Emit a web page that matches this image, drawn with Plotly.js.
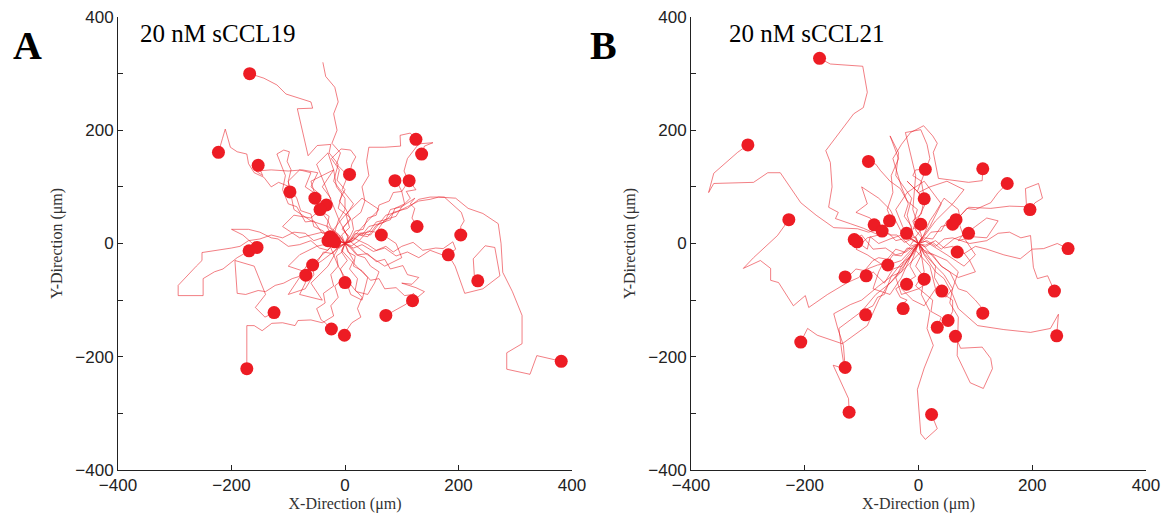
<!DOCTYPE html>
<html><head><meta charset="utf-8">
<script src="https://cdn.plot.ly/plotly-3.0.1.min.js"></script>
<style>html,body{margin:0;padding:0;background:#fff}#chart{width:1172px;height:523px}</style>
</head><body><div id="chart"></div>
<script>
// ---------- Panel A: 20 nM sCCL19 (end points, µm) ----------
const endAx = [-168,-223,-153,-97,-53,-33,-44,8,88,113,125,135,64,127,204,182,234,119,72,0,-24,-1,-125,-173,381,-69,-57,-169,-155,-30,-22,-26,-18];
const endAy = [300,161,138,91,80,68,60,122,111,111,184,158,15,30,15,-20,-66,-101,-127,-69,-151,-162,-122,-221,-208,-56,-38,-13,-7,5,8,12,3];
// intermediate track waypoints (each track starts at origin and finishes at its end point)
const pathsA = [
 [[8,12],[-5,25],[10,45],[-12,62],[-5,90],[-20,110],[-12,140],[-28,160],[-25,175],[-49,173],[-65,155],[-84,238],[-57,239],[-60,250],[-104,264],[-120,280],[-143,292]],
 [[-12,8],[-25,0],[-38,22],[-55,30],[-60,52],[-78,58],[-85,80],[-97,100],[-117,108],[-130,100],[-143,117],[-160,125],[-170,141],[-173,158],[-190,162],[-202,170],[-211,202],[-216,185],[-220,172]],
 [[-10,12],[-20,8],[-32,30],[-28,48],[-50,62],[-42,85],[-60,100],[-48,125],[-75,130],[-100,128],[-130,130],[-157,128],[-145,120]],
 [[-15,5],[-22,20],[-40,18],[-55,40],[-70,38],[-85,65],[-100,70],[-110,95],[-105,120],[-120,158],[-108,165],[-98,162],[-102,145],[-95,130],[-100,110]],
 [[-8,12],[-30,30],[-60,40],[-90,60],[-100,110],[-80,130],[-60,125],[-70,100],[-55,90]],
 [[6,10],[-10,40],[-30,90],[-50,140],[-30,160],[-20,130],[-40,100],[-25,80]],
 [[-10,6],[-40,20],[-80,10],[-110,30],[-90,50],[-60,45],[-50,55]],
 [[5,12],[-4,28],[10,42],[2,60],[-10,75],[0,95],[-14,112],[-10,130],[-24,150],[-7,167],[10,165],[19,153],[12,140]],
 [[10,8],[18,22],[32,25],[40,45],[55,50],[60,68],[78,75],[85,90],[100,92],[95,102]],
 [[12,5],[25,18],[42,20],[55,38],[72,42],[80,60],[100,65],[115,80],[108,92],[125,95],[118,104]],
 [[8,10],[15,25],[12,42],[28,55],[35,75],[30,100],[42,120],[38,145],[42,170],[70,170],[98,172],[97,191],[115,195]],
 [[15,5],[28,18],[45,15],[60,35],[80,42],[88,62],[105,70],[100,92],[112,110],[104,128],[110,150],[130,176],[155,178],[140,172]],
 [[10,3],[40,-20],[70,-40],[100,-25],[90,0],[75,10]],
 [[15,10],[25,5],[40,22],[55,20],[70,42],[90,48],[100,65],[123,80],[115,70],[123,62],[118,45]],
 [[12,4],[25,15],[40,12],[55,32],[70,38],[85,55],[110,62],[130,78],[150,82],[175,82],[190,68],[205,55],[210,40],[204,30]],
 [[12,-4],[25,5],[40,-2],[55,-12],[72,-5],[85,-15],[100,-5],[120,2],[137,-12],[160,-8],[173,-9],[190,3],[195,-10]],
 [[15,-8],[30,-2],[50,-14],[70,-8],[90,-22],[110,-15],[130,-25],[150,-12],[170,-20],[185,-25],[194,-40],[205,-72],[211,-88],[243,-80],[273,-57],[264,-7],[247,-4],[226,-27],[228,-58]],
 [[12,-8],[22,-20],[40,-18],[55,-32],[70,-28],[80,-45],[102,-39],[110,-55],[130,-60],[118,-72],[100,-70],[125,-78],[140,-85],[128,-95],[120,-88]],
 [[5,-15],[18,-22],[15,-40],[30,-48],[45,-65],[60,-62],[70,-80],[90,-78],[105,-92],[120,-90],[108,-107]],
 [[-6,-12],[20,-40],[40,-60],[30,-100],[10,-90],[5,-75]],
 [[-5,-15],[-15,-22],[-12,-40],[-25,-55],[-20,-75],[-38,-88],[-35,-105],[-50,-115],[-42,-135],[-35,-140]],
 [[6,-14],[15,-30],[8,-45],[22,-62],[18,-82],[30,-95],[22,-115],[28,-130],[12,-140],[5,-150]],
 [[-12,-5],[-22,-18],[-38,-15],[-50,-35],[-68,-40],[-80,-58],[-93,-62],[-108,-70],[-123,-74],[-140,-85],[-153,-83],[-175,-90],[-190,-88],[-194,-30],[-175,-35],[-160,-40],[-150,-65],[-140,-90],[-158,-113],[-141,-130]],
 [[-6,-15],[4,-30],[-8,-45],[-2,-62],[-18,-75],[-12,-95],[-25,-110],[-20,-128],[-40,-140],[-60,-135],[-83,-136],[-88,-145],[-110,-140],[-129,-141],[-146,-154],[-160,-145],[-173,-145]],
 [[10,5],[18,18],[30,15],[42,30],[60,35],[72,50],[90,55],[110,65],[130,75],[150,78],[165,82],[195,80],[217,62],[243,53],[270,35],[275,0],[278,-51],[295,-85],[312,-127],[312,-177],[285,-193],[285,-222],[326,-231],[338,-198]],
 [[-10,-5],[-30,-40],[-60,-70],[-40,-100],[-80,-90],[-70,-70]],
 [[-12,5],[-40,-20],[-80,-60],[-100,-90],[-70,-80],[-55,-55]],
 [[-12,5],[-25,-3],[-40,10],[-55,5],[-70,18],[-90,20],[-110,10],[-130,15],[-150,8],[-170,5],[-185,-5],[-200,-8],[-230,-12],[-252,-16],[-252,-30],[-262,-40],[-294,-74],[-294,-92],[-250,-92],[-250,-62],[-230,-50],[-215,-45],[-190,-25]],
 [[-10,-8],[-22,0],[-30,-12],[-45,-8],[-60,5],[-80,-2],[-100,-5],[-118,8],[-130,10],[-150,20],[-170,25],[-200,25],[-180,15]],
 [[10,-8],[20,-20],[35,-25],[45,-40],[60,-50],[52,-70],[40,-90],[20,-85],[0,-60],[-12,-40],[-20,-20]],
 [[-10,15],[-25,28],[-30,40],[-45,60],[-52,82],[-60,110],[-40,120],[-20,130],[-15,100],[0,80],[0,60],[-12,40]],
 [[12,8],[40,40],[60,60],[30,80],[0,50],[-20,25]],
 [[-12,-8],[-40,-30],[-70,-50],[-100,-40],[-80,-20],[-50,-5],[-30,0]]
];
// track whose end point carries no marker
const openPathsA = [
 [[0,0],[-6,15],[8,28],[2,50],[15,70],[-5,95],[5,120],[-15,140],[-8,160],[-23,177],[-14,200],[-20,229],[-12,250],[-18,276],[-34,295],[-39,320]]
];

// ---------- Panel B: 20 nM sCCL21 ----------
const endBx = [-174,-300,-228,-88,12,113,156,196,10,-78,-64,-51,4,-21,60,66,88,-113,-108,68,263,-54,-129,-92,-21,10,41,239,-27,-93,113,33,52,65,243,-207,-129,-122,23];
const endBy = [327,174,42,145,131,132,106,60,79,33,22,40,34,18,34,42,18,7,3,-15,-9,-38,-59,-57,-72,-63,-84,-84,-115,-126,-123,-148,-136,-164,-163,-174,-219,-298,-302];
const pathsB = [
 [[-8,6],[-15,-4],[-28,8],[-40,5],[-52,18],[-70,15],[-97,27],[-120,35],[-146,44],[-141,55],[-158,64],[-152,100],[-155,143],[-163,164],[-140,195],[-114,229],[-97,240],[-90,267],[-98,313],[-130,315],[-155,317]],
 [[-12,8],[-25,2],[-38,15],[-50,15],[-70,25],[-88,20],[-107,26],[-149,28],[-180,50],[-207,72],[-243,125],[-265,125],[-290,108],[-360,106],[-369,90],[-360,124],[-318,161]],
 [[-8,-10],[-20,-8],[-30,-22],[-45,-20],[-55,-35],[-72,-38],[-90,-45],[-105,-60],[-125,-69],[-160,-90],[-193,-113],[-199,-92],[-220,-110],[-246,-69],[-260,-65],[-260,-44],[-278,-30],[-308,-44],[-290,-25],[-248,14]],
 [[-5,12],[5,25],[-8,40],[-2,60],[-20,75],[-32,97],[-50,110],[-67,129],[-75,140]],
 [[6,10],[-4,22],[-10,40],[5,52],[10,80],[-2,92],[5,110],[-10,120],[-5,130]],
 [[-6,12],[-15,8],[-12,30],[-25,48],[-18,70],[-30,100],[-38,125],[-45,150],[-30,175],[-14,196],[9,208],[25,190],[33,177],[26,161],[35,115],[60,112],[88,108],[112,111]],
 [[12,8],[22,20],[40,22],[50,40],[70,45],[85,62],[100,60],[127,72],[140,90]],
 [[10,10],[25,8],[40,30],[60,35],[88,64],[127,62],[160,66],[190,65],[188,97],[211,106],[218,80],[205,72]],
 [[8,10],[30,40],[60,70],[80,95],[50,110],[20,100],[0,90],[-20,110],[-5,95],[15,72]],
 [[-10,5],[-30,20],[-50,60],[-70,80],[-100,100],[-90,70],[-110,55],[-85,45]],
 [[-8,-6],[-30,-30],[-60,-40],[-90,-20],[-110,-10],[-90,10],[-70,15]],
 [[-8,12],[-20,50],[-12,80],[-40,120],[-35,160],[-50,190],[-35,150],[-48,120],[-45,90],[-55,60],[-51,50]],
 [[6,12],[-10,60],[-5,120],[-23,196],[4,201],[15,175],[20,150],[5,110],[12,70],[-10,25]],
 [[-6,-8],[20,30],[40,70],[10,110],[-20,90],[-40,60],[-28,30]],
 [[12,4],[50,-20],[80,-40],[100,-20],[80,10],[70,40],[52,38]],
 [[8,12],[20,40],[30,55],[45,80],[58,70],[70,60],[72,50]],
 [[12,-6],[25,2],[40,-10],[62,8],[80,15],[100,30],[120,45],[140,40],[128,22],[120,10],[95,12],[70,5],[78,15]],
 [[-10,-6],[-22,-15],[-40,-20],[-58,-8],[-80,-10],[-92,5],[-100,15]],
 [[-8,6],[-20,12],[-30,15],[-50,8],[-70,0],[-85,12],[-90,-10]],
 [[10,-5],[40,-40],[70,-60],[100,-50],[90,-30],[75,-10]],
 [[12,-3],[30,5],[45,-8],[60,-5],[80,-18],[100,-5],[120,-10],[150,-20],[179,-27],[200,-10],[220,-9],[244,0]],
 [[-8,-10],[-30,-60],[-50,-90],[-80,-80],[-70,-50],[-60,-30]],
 [[-12,-4],[-25,-15],[-40,-10],[-55,-28],[-70,-25],[-80,-30],[-95,-48],[-110,-45],[-120,-55]],
 [[-10,-15],[-18,-28],[-30,-40],[-45,-45],[-60,-70],[-70,-60],[-80,-50],[-88,-60]],
 [[-5,-12],[20,-40],[30,-80],[10,-110],[-10,-100],[-30,-80]],
 [[8,-10],[-20,-40],[-40,-60],[-30,-90],[0,-80],[15,-70]],
 [[10,-12],[50,-30],[70,-50],[60,-80],[48,-95]],
 [[15,5],[30,-5],[45,8],[60,10],[90,0],[120,5],[140,18],[160,20],[180,10],[197,14],[202,-42],[209,-62],[227,-57]],
 [[-6,-15],[-15,-40],[-5,-58],[-25,-70],[-40,-80],[-32,-95],[-20,-100],[-30,-108]],
 [[-10,-15],[-20,-30],[-30,-50],[-48,-58],[-60,-90],[-72,-95],[-80,-110],[-90,-115]],
 [[10,-15],[25,-20],[40,-40],[55,-50],[70,-80],[85,-85],[100,-100],[110,-112]],
 [[5,-20],[10,-50],[-5,-75],[25,-100],[22,-120],[40,-130]],
 [[12,-15],[30,-40],[28,-60],[45,-90],[60,-100],[60,-120]],
 [[10,-18],[30,-40],[45,-55],[60,-80],[55,-105],[70,-130],[68,-198],[91,-246],[114,-256],[130,-221],[127,-203],[112,-183],[74,-185]],
 [[10,-20],[30,-50],[45,-62],[60,-90],[70,-115],[104,-145],[150,-152],[197,-157],[232,-150],[246,-125]],
 [[-12,-15],[-25,-30],[-40,-60],[-55,-75],[-70,-100],[-90,-145],[-134,-177],[-178,-162],[-195,-150]],
 [[-10,-20],[-30,-35],[-50,-60],[-70,-75],[-100,-100],[-120,-108],[-149,-124],[-142,-150],[-132,-180]],
 [[-15,-25],[-30,-45],[-50,-70],[-75,-90],[-100,-120],[-120,-135],[-140,-150],[-135,-190],[-130,-221],[-150,-215],[-123,-274]],
 [[5,-20],[-5,-40],[10,-60],[5,-90],[20,-120],[15,-150],[26,-180],[10,-220],[-2,-258],[4,-336],[12,-346],[33,-327]]
];
const openPathsB = [];

const yTicks = [-400,-300,-200,-100,0,100,200,300,400];
const yTickText = ['−400','','−200','','0','','200','','400'];
const xTicks = [-400,-200,0,200,400];
const xTickText = ['−400','−200','0','200','400'];

function buildLines(paths, ex, ey, openPaths){
  const xs=[], ys=[];
  paths.forEach((p,i)=>{
    xs.push(0); ys.push(0);
    p.forEach(q=>{xs.push(q[0]); ys.push(q[1]);});
    xs.push(ex[i]); ys.push(ey[i]);
    xs.push(null); ys.push(null);
  });
  openPaths.forEach(p=>{
    p.forEach(q=>{xs.push(q[0]); ys.push(q[1]);});
    xs.push(null); ys.push(null);
  });
  return {xs, ys};
}
const LA = buildLines(pathsA, endAx, endAy, openPathsA);
const LB = buildLines(pathsB, endBx, endBy, openPathsB);

const lineStyle = {color:'rgba(232,32,40,0.72)', width:0.8};
const markerStyle = {color:'#ed1c24', size:13, line:{width:0}};

const data = [
 {x:LA.xs, y:LA.ys, mode:'lines', line:lineStyle, xaxis:'x', yaxis:'y', hoverinfo:'skip', showlegend:false, connectgaps:false},
 {x:endAx, y:endAy, mode:'markers', marker:markerStyle, xaxis:'x', yaxis:'y', showlegend:false, cliponaxis:false},
 {x:LB.xs, y:LB.ys, mode:'lines', line:lineStyle, xaxis:'x2', yaxis:'y2', hoverinfo:'skip', showlegend:false, connectgaps:false},
 {x:endBx, y:endBy, mode:'markers', marker:markerStyle, xaxis:'x2', yaxis:'y2', showlegend:false, cliponaxis:false}
];

const tickFont = {family:'"Liberation Sans", Arial, sans-serif', size:17, color:'#222'};
const titleFont = {family:'"Liberation Serif", "Times New Roman", serif', size:16, color:'#333'};
function xAx(dom){
  return {domain:dom, range:[-400,400], showgrid:false, zeroline:false, showline:true, linecolor:'#222', linewidth:1,
    ticks:'inside', ticklen:5, tickcolor:'#222', tickvals:xTicks, ticktext:xTickText, tickfont:tickFont,
    automargin:false, mirror:false, fixedrange:true,
    title:{text:'X-Direction (μm)', font:titleFont, standoff:3}};
}
function yAx(dom){
  return {domain:dom, range:[-400,400], showgrid:false, zeroline:false, showline:true, linecolor:'#222', linewidth:1,
    ticks:'inside', ticklen:5, tickcolor:'#222', tickvals:yTicks, ticktext:yTickText, tickfont:tickFont,
    automargin:false, fixedrange:true,
    title:{text:'Y-Direction (μm)', font:titleFont, standoff:8}};
}
const yDom = [1-470/523, 1-17/523];
const layout = {
  width:1172, height:523, margin:{l:0,r:0,t:0,b:0}, paper_bgcolor:'#fff', plot_bgcolor:'#fff',
  showlegend:false,
  xaxis: Object.assign(xAx([118/1172, 572/1172]), {anchor:'y'}),
  yaxis: Object.assign(yAx(yDom), {anchor:'x'}),
  xaxis2: Object.assign(xAx([691/1172, 1146/1172]), {anchor:'y2'}),
  yaxis2: Object.assign(yAx(yDom), {anchor:'x2'}),
  annotations:[
    {text:'<b>A</b>', xref:'paper', yref:'paper', x:27/1172, y:1-45/523, xanchor:'center', yanchor:'middle', showarrow:false,
     font:{family:'"Liberation Serif", "Times New Roman", serif', size:40, color:'#000'}},
    {text:'20 nM sCCL19', xref:'paper', yref:'paper', x:138/1172, y:1-33/523, xanchor:'left', yanchor:'middle', showarrow:false,
     font:{family:'"Liberation Serif", "Times New Roman", serif', size:25, color:'#000'}},
    {text:'<b>B</b>', xref:'paper', yref:'paper', x:603/1172, y:1-45/523, xanchor:'center', yanchor:'middle', showarrow:false,
     font:{family:'"Liberation Serif", "Times New Roman", serif', size:40, color:'#000'}},
    {text:'20 nM sCCL21', xref:'paper', yref:'paper', x:727/1172, y:1-33/523, xanchor:'left', yanchor:'middle', showarrow:false,
     font:{family:'"Liberation Serif", "Times New Roman", serif', size:25, color:'#000'}}
  ]
};
Plotly.newPlot('chart', data, layout, {displayModeBar:false, staticPlot:true});
</script>
</body></html>
